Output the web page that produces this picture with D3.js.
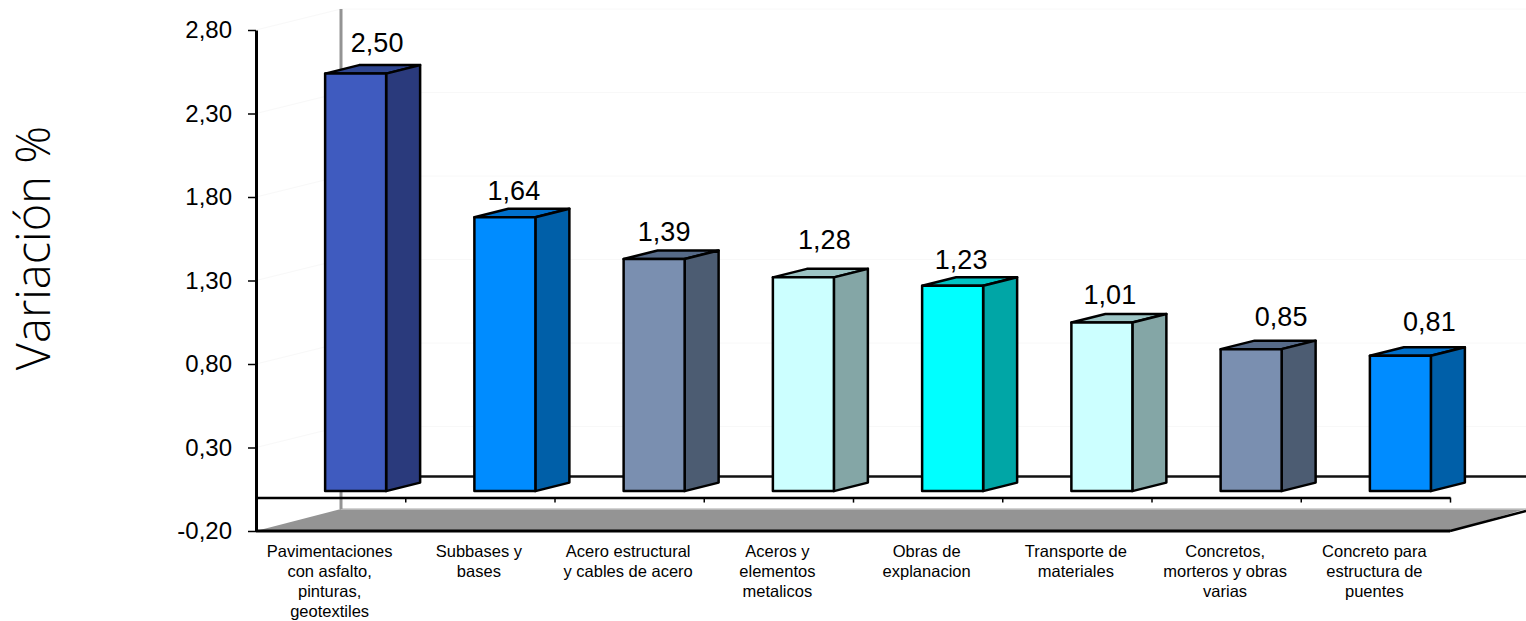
<!DOCTYPE html>
<html>
<head>
<meta charset="utf-8">
<script src="https://cdn.jsdelivr.net/npm/d3@7"></script>
<style>
    html, body { margin: 0; padding: 0; background: #fff; }
    svg { display: block; }
    text { font-family: "Liberation Sans", Arial, sans-serif; fill: #000; }
</style>
</head>
<body>
<svg></svg>
<script>
// values
const categories = [
    ["Pavimentaciones", "con asfalto,", "pinturas,", "geotextiles"],
    ["Subbases y", "bases"],
    ["Acero estructural", "y cables de acero"],
    ["Aceros y", "elementos", "metalicos"],
    ["Obras de", "explanacion"],
    ["Transporte de", "materiales"],
    ["Concretos,", "morteros y obras", "varias"],
    ["Concreto para", "estructura de", "puentes"]
];
const values = [2.50, 1.64, 1.39, 1.28, 1.23, 1.01, 0.85, 0.81];
const yTicks = [-0.2, 0.3, 0.8, 1.3, 1.8, 2.3, 2.8];

// front, side, top colour of each bar
const palette = {
    royal: ["#3f5bbf", "#2a3a7c", "#2f4690"],
    blue: ["#008cff", "#005fa8", "#0070cc"],
    slate: ["#7a8fb0", "#4c5c72", "#566a88"],
    pale: ["#ccffff", "#84a6a6", "#9cc4c4"],
    cyan: ["#00ffff", "#00a6a6", "#00c4c4"]
};
const barColors = ["royal", "blue", "slate", "pale", "cyan", "pale", "slate", "blue"];

// the value labels were placed by hand in the original
const labelDx = [21.5, 9, 10, 21, 8.5, 8, 30, 29];
const labelDy = [-22, -17.5, -17.5, -28, -16.5, -18, -23, -25];

const width = 1526;
const height = 621;
const plot = {left: 256, right: 1450, top: 30, bottom: 531};
const wall = {dx: 85, dy: 21};     // how far the back wall sits from the front plane
const front = {dx: 25, dy: 6.5};   // bars stand a bit behind the front plane
const side = {dx: 34, dy: 8.5};    // depth of a bar

const fmt = v => d3.format(".2f")(v).replace(".", ",").replace("\u2212", "-");

const svg = d3.select("svg")
    .attr("width", width)
    .attr("height", height)
    .attr("viewBox", [0, 0, width, height]);

const y = d3.scaleLinear()
    .domain([-0.2, 2.8])
    .range([plot.bottom, plot.top]);

const x = d3.scaleBand()
    .domain(d3.range(values.length))
    .range([plot.left, plot.right])
    .paddingInner(0)
    .paddingOuter(0);

const barWidth = 61;
const barLeft = i => x(i) + x.bandwidth() / 2 + front.dx - barWidth / 2;
const barTop = v => y(v) - front.dy;
const barBase = y(0) - front.dy;

// faint gridlines on the side and back wall
svg.append("g")
    .selectAll("path")
    .data(yTicks.slice(1))
    .join("path")
    .attr("d", d => `M${plot.left},${y(d)}L${plot.left + wall.dx},${y(d) - wall.dy}L${width},${y(d) - wall.dy}`)
    .attr("fill", "none")
    .attr("stroke", "#f8f8f8")
    .attr("stroke-width", 1);

// floor
const floorBack = plot.bottom - wall.dy - 1;
svg.append("path")
    .attr("d", `M${plot.left},${plot.bottom}L${plot.left + wall.dx},${floorBack}L${width},${floorBack}L${plot.right},${plot.bottom}Z`)
    .attr("fill", "#949494");
svg.append("path")
    .attr("d", `M${plot.left + wall.dx},${floorBack}L${width},${floorBack}`)
    .attr("stroke", "#c4c4c4")
    .attr("stroke-width", 1.5);
svg.append("path")
    .attr("d", `M${plot.right},${plot.bottom}L${width},${plot.bottom - 20}`)
    .attr("stroke", "#000")
    .attr("stroke-width", 2.5);

// back wall edge and the zero line on it
svg.append("path")
    .attr("d", `M${plot.left + wall.dx},${y(2.8) - wall.dy}V${floorBack}`)
    .attr("stroke", "#949494")
    .attr("stroke-width", 3);
svg.append("path")
    .attr("d", `M${plot.left + wall.dx},${y(0) - wall.dy}H${width}`)
    .attr("stroke", "#111")
    .attr("stroke-width", 2.5);

// zero line with its category ticks
const xAxis = d3.axisBottom(d3.scaleLinear()
        .domain([0, values.length])
        .range([plot.left, plot.right]))
    .tickValues(d3.range(1, values.length + 1))
    .tickFormat("")
    .tickSizeInner(5)
    .tickSizeOuter(0);
const zeroAxis = svg.append("g")
    .attr("transform", `translate(0,${y(0)})`)
    .call(xAxis);
zeroAxis.select(".domain").attr("stroke", "#000").attr("stroke-width", 2.5);
zeroAxis.selectAll(".tick line").attr("stroke", "#000").attr("stroke-width", 1.5);

// value axis
const yAxis = d3.axisLeft(y)
    .tickValues(yTicks)
    .tickFormat(fmt)
    .tickSizeInner(8)
    .tickSizeOuter(0)
    .tickPadding(16);
const left = svg.append("g")
    .attr("transform", `translate(${plot.left},0)`)
    .call(yAxis);
left.select(".domain").attr("stroke", "#000").attr("stroke-width", 3);
left.selectAll(".tick line").attr("stroke", "#000").attr("stroke-width", 1.5);
left.selectAll(".tick text")
    .style("font-size", "24px")
    .style("font-family", '"Liberation Sans", Arial, sans-serif')
    .attr("fill", "#000");

// bottom edge of the front plane
svg.append("path")
    .attr("d", `M${plot.left},${plot.bottom}H${plot.right}`)
    .attr("stroke", "#000")
    .attr("stroke-width", 3);

// bars
const bars = svg.append("g")
    .attr("stroke", "#000")
    .attr("stroke-width", 2.5)
    .attr("stroke-linejoin", "round")
    .selectAll("g")
    .data(values)
    .join("g");

bars.append("path")
    .attr("fill", (d, i) => palette[barColors[i]][2])
    .attr("d", (d, i) => {
        const l = barLeft(i), t = barTop(d);
        return `M${l},${t}L${l + side.dx},${t - side.dy}H${l + barWidth + side.dx}L${l + barWidth},${t}Z`;
    });
bars.append("path")
    .attr("fill", (d, i) => palette[barColors[i]][1])
    .attr("d", (d, i) => {
        const r = barLeft(i) + barWidth, t = barTop(d);
        return `M${r},${t}L${r + side.dx},${t - side.dy}V${barBase - side.dy}L${r},${barBase}Z`;
    });
bars.append("rect")
    .attr("fill", (d, i) => palette[barColors[i]][0])
    .attr("x", (d, i) => barLeft(i))
    .attr("y", d => barTop(d))
    .attr("width", barWidth)
    .attr("height", d => barBase - barTop(d));

// value labels
svg.append("g")
    .selectAll("text")
    .data(values)
    .join("text")
    .attr("x", (d, i) => barLeft(i) + barWidth / 2 + labelDx[i])
    .attr("y", (d, i) => barTop(d) + labelDy[i])
    .attr("text-anchor", "middle")
    .style("font-size", "27px")
    .text(fmt);

// category labels
svg.append("g")
    .selectAll("text")
    .data(categories)
    .join("text")
    .attr("text-anchor", "middle")
    .style("font-size", "16.5px")
    .selectAll("tspan")
    .data((d, i) => d.map(line => ({line, i})))
    .join("tspan")
    .attr("x", d => x(d.i) + x.bandwidth() / 2 - 1)
    .attr("y", (d, j) => 557 + j * 20)
    .text(d => d.line);

// axis title
svg.append("text")
    .attr("transform", "translate(50,248) rotate(-90)")
    .attr("text-anchor", "middle")
    .style("font-family", '"Open Sans", sans-serif')
    .style("font-weight", 300)
    .style("font-size", "47px")
    .text("Variación %");
</script>
</body>
</html>
